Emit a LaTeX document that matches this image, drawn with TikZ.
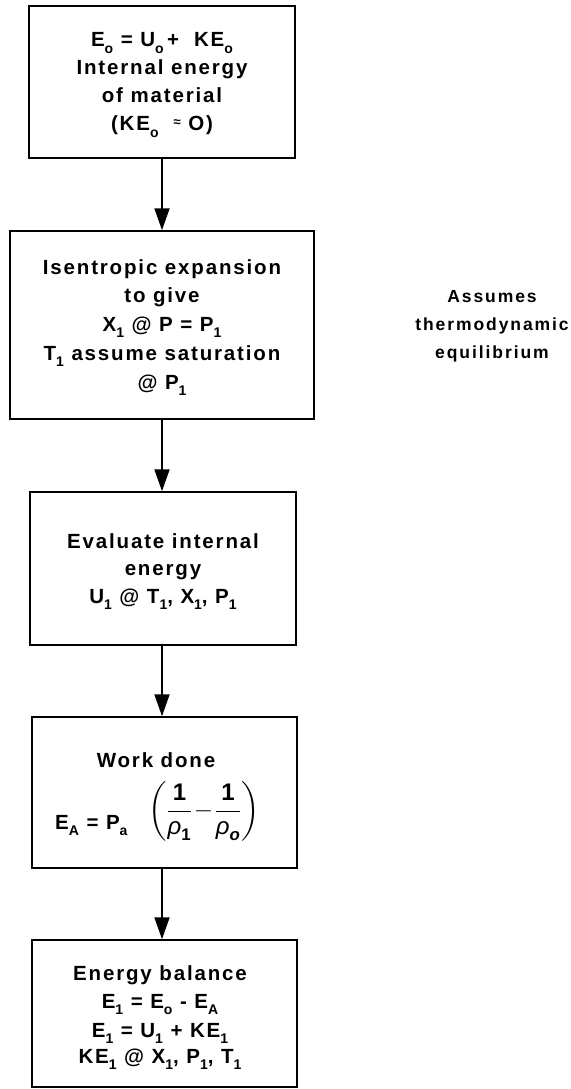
\documentclass[tikz,border=0pt]{standalone}
\usepackage{amsmath}
\usepackage{fontspec}
\setmainfont{Liberation Sans}[LetterSpace=9]
\newfontfamily\sidefont{Liberation Sans}[LetterSpace=11]
\usetikzlibrary{arrows.meta}
\newcommand\sbs[1]{\raisebox{-6.5pt}{\fontsize{14}{14}\selectfont #1}}
\newcommand\apx{\raisebox{4pt}{\fontsize{13}{13}\selectfont ≈}}
\newcommand\rhosub[1]{\text{\mdseries\itshape ρ}_{\text{#1}}}
\tikzset{
  box/.style={draw, line width=1.5pt, inner sep=0pt},
  ln/.style={anchor=base, inner sep=0pt, font=\fontsize{20.5}{28}\selectfont\bfseries},
  side/.style={anchor=base, inner sep=0pt, font=\sidefont\fontsize{17.5}{28}\selectfont\bfseries},
  arr/.style={line width=1.9pt, -{Triangle[length=22pt,width=15pt]}}
}
\begin{document}
\begin{tikzpicture}[x=1pt,y=-1pt]
\useasboundingbox (0,0) rectangle (570,1089);
% frames
\node[box, minimum width=266pt, minimum height=152pt] (b1) at (162,82) {};
\node[box, minimum width=304pt, minimum height=188pt] (b2) at (162,325) {};
\node[box, minimum width=266pt, minimum height=153pt] (b3) at (163,568.5) {};
\node[box, minimum width=265pt, minimum height=151pt] (b4) at (164.5,792.5) {};
\node[box, minimum width=265pt, minimum height=147pt] (b5) at (164.5,1013.5) {};
% box 1
\node[ln] (t1a) at (162,47) {E\sbs{o} = U\sbs{o}\,+\ \ KE\sbs{o}};
\node[ln] (t1b) at (162,75) {Internal energy};
\node[ln] (t1c) at (162,103) {of material};
\node[ln] (t1d) at (162,131) {(KE\sbs{o}\ \ \apx\ O)};
% box 2
\node[ln] (t2a) at (162,274) {Isentropic expansion};
\node[ln] (t2b) at (162,302) {to give};
\node[ln] (t2c) at (162,331) {X\sbs{1} @ P = P\sbs{1}};
\node[ln] (t2d) at (162,360) {T\sbs{1} assume saturation};
\node[ln] (t2e) at (162,389) {@ P\sbs{1}};
% box 3
\node[ln] (t3a) at (163,548) {Evaluate internal};
\node[ln] (t3b) at (163,575) {energy};
\node[ln] (t3c) at (163,603) {U\sbs{1} @ T\sbs{1}, X\sbs{1}, P\sbs{1}};
% box 4
\node[ln] (t4a) at (156,767) {Work done};
\node[ln, anchor=base west] (t4b) at (55,829) {E\sbs{A} = P\sbs{a}};
\node[inner sep=0pt, font=\fontsize{24}{24}\selectfont\bfseries] (t4c) at (204,811)
  {$\biggl(\dfrac{\text{1}}{\rhosub{1}}\mkern-3mu-\mkern-3mu\dfrac{\text{1}}{\rhosub{\itshape o}}\biggr)$};
% box 5
\node[ln] (t5a) at (160,980) {Energy balance};
\node[ln] (t5b) at (160,1008) {E\sbs{1} = E\sbs{o} - E\sbs{A}};
\node[ln] (t5c) at (160,1037) {E\sbs{1} = U\sbs{1} + KE\sbs{1}};
\node[ln] (t5d) at (160,1063) {KE\sbs{1} @ X\sbs{1}, P\sbs{1}, T\sbs{1}};
% side note
\node[side] (s1) at (492,302) {Assumes};
\node[side] (s2) at (492,330) {thermodynamic};
\node[side] (s3) at (492,358) {equilibrium};
% connectors
\draw[arr] (b1.south) -- (b1.south |- b2.north);
\draw[arr] (b1 |- b2.south) -- (b1 |- b3.north);
\draw[arr] (b1 |- b3.south) -- (b1 |- b4.north);
\draw[arr] (b1 |- b4.south) -- (b1 |- b5.north);
\end{tikzpicture}
\end{document}
